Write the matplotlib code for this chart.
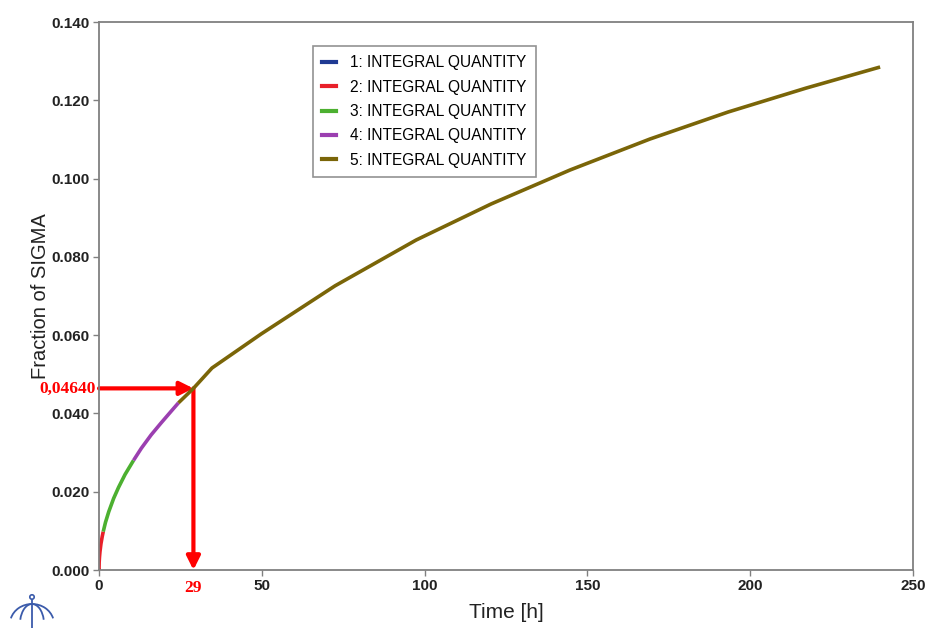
import matplotlib
matplotlib.use("Agg")
import matplotlib.pyplot as plt
from matplotlib.patches import Arc, FancyArrowPatch
from matplotlib.lines import Line2D

# ---- data ----
t1 = [0.0, 0.02]
y1 = [0.0, 0.0004]

t2 = [0.0, 0.05, 0.15, 0.3, 0.6, 1.0, 1.3]
y2 = [0.0, 0.0020, 0.0033, 0.0047, 0.0067, 0.0086, 0.0098]

t3 = [1.3, 2.0, 3.0, 4.5, 6.0, 8.0, 10.6]
y3 = [0.0098, 0.0122, 0.0149, 0.0183, 0.0211, 0.0244, 0.0280]

t4 = [10.6, 13.0, 16.0, 19.0, 22.0, 24.4]
y4 = [0.0280, 0.0311, 0.0345, 0.0375, 0.0404, 0.0427]

t5 = [24.4, 29.0, 34.7, 49.8, 72.5, 97.4, 120.4, 144.7, 169.2, 193.2, 217.1, 239.9]
y5 = [0.0427, 0.0464, 0.0516, 0.0603, 0.0726, 0.0843, 0.0935, 0.1022, 0.1101, 0.1170, 0.1231, 0.1285]

series_t = [t1, t2, t3, t4, t5]
series_y = [y1, y2, y3, y4, y5]
labels = ["1: INTEGRAL QUANTITY", "2: INTEGRAL QUANTITY", "3: INTEGRAL QUANTITY",
          "4: INTEGRAL QUANTITY", "5: INTEGRAL QUANTITY"]
colors = ["#1f3a93", "#e8202a", "#4cb030", "#9b3fb0", "#7a6508"]

xticks = [0, 50, 100, 150, 200, 250]
yticks = [0.000, 0.020, 0.040, 0.060, 0.080, 0.100, 0.120, 0.140]

mark_t = 29
mark_y = 0.04640
mark_t_label = "29"
mark_y_label = "0,04640"

plt.rcParams['font.family'] = ['Liberation Sans', 'DejaVu Sans']

fig = plt.figure(figsize=(9.27, 6.28), dpi=100)
W, H = 927, 628
ax = fig.add_axes([99 / W, 1 - 570 / H, (913 - 99) / W, (570 - 22) / H])

for t, y, c, lab in zip(series_t, series_y, colors, labels):
    ax.plot(t, y, color=c, lw=2.6, label=lab, solid_capstyle='butt')

ax.set_xlim(0, 250)
ax.set_ylim(0, 0.140)
ax.set_xticks(xticks)
ax.set_xticklabels([str(v) for v in xticks])
ax.set_yticks(yticks)
ax.set_yticklabels([f"{v:.3f}" for v in yticks])
for s in ax.spines.values():
    s.set_color("#808080")
    s.set_linewidth(1.3)
ax.tick_params(axis='both', direction='out', length=4, width=1, color='#808080',
               labelsize=11, labelcolor='#222222', pad=2.5)
for lbl in ax.get_xticklabels() + ax.get_yticklabels():
    lbl.set_fontweight('bold')

ax.set_xlabel("Time [h]", fontsize=15, color='#222222', labelpad=7)
ax.set_ylabel("Fraction of SIGMA", fontsize=14.5, color='#222222', labelpad=1.5)

# red arrows
arr_kw = dict(arrowstyle='-|>,head_length=0.8,head_width=0.4', color='#ff0000',
              lw=3, mutation_scale=10, shrinkA=0, shrinkB=0, clip_on=False)
ax.add_patch(FancyArrowPatch((0, mark_y), (mark_t, mark_y), **arr_kw))
ax.add_patch(FancyArrowPatch((mark_t, mark_y), (mark_t, 0), **arr_kw))
ax.text(-1.0, mark_y, mark_y_label, color='#ff0000', fontsize=12.5, fontweight='bold',
        family=['Liberation Serif', 'DejaVu Serif'], ha='right', va='center')
ax.text(mark_t, -0.0025, mark_t_label, color='#ff0000', fontsize=12.5, fontweight='bold',
        family=['Liberation Serif', 'DejaVu Serif'], ha='center', va='top')

handles = [Line2D([0], [0], color=c, lw=3) for c in colors]
leg = ax.legend(handles, labels, loc='upper left', bbox_to_anchor=(214 / 814, 1 - 24 / 548),
                frameon=True, fancybox=False, edgecolor='#777777', fontsize=11.2,
                handlelength=0.9, handletextpad=0.9, borderpad=0.6, labelspacing=0.6,
                borderaxespad=0)
leg.get_frame().set_linewidth(1.2)

# logo approximation
lax = fig.add_axes([5 / W, 0, 55 / W, 38 / H])
lax.set_xlim(0, 55)
lax.set_ylim(0, 38)
lax.axis('off')
lc = '#3b5bab'
lax.add_patch(Arc((27, 4), 44, 40, theta1=15, theta2=165, color=lc, lw=1.3))
lax.add_patch(Arc((27, 4), 24, 40, theta1=20, theta2=160, color=lc, lw=1.3))
lax.plot([27, 27], [0, 28], color=lc, lw=1.3)
lax.add_patch(plt.Circle((27, 31), 2.2, fill=False, color=lc, lw=1.2))

fig.savefig("out.png", dpi=100)
